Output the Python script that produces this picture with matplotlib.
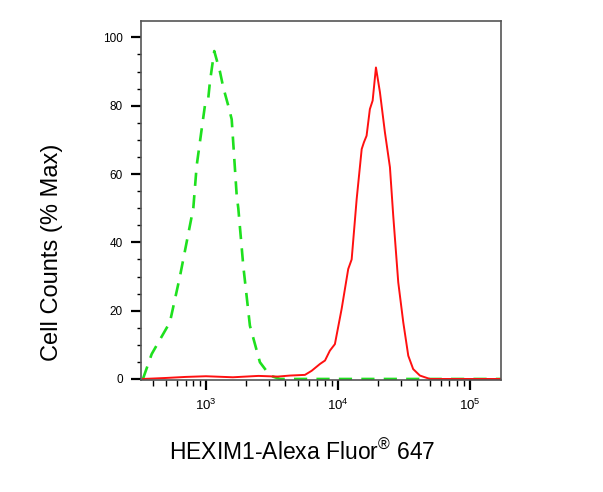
import matplotlib
matplotlib.use("Agg")
import matplotlib.pyplot as plt
from matplotlib.ticker import LogLocator, FixedLocator, NullFormatter

plt.rcParams["font.family"] = ["Liberation Sans", "DejaVu Sans"]
plt.rcParams["mathtext.fontset"] = "custom"
plt.rcParams["mathtext.rm"] = "Liberation Sans"
plt.rcParams["mathtext.it"] = "Liberation Sans"

# isotype control (green, dashed)
ctrl_x = [333, 388, 533, 635, 802, 851, 927, 982, 1040, 1072, 1156, 1276, 1352,
          1476, 1567, 1710, 1758, 1919, 2153, 2564, 3055, 3639, 171000]
ctrl_y = [0, 7.3, 16.6, 30, 50, 62.5, 73, 80, 82, 87, 96, 90, 85.4,
          80, 76, 53.7, 50, 33, 15.6, 4.9, 1, 0, 0]

# HEXIM1 stained (red, solid)
hex_x = [333, 500, 700, 1000, 1600, 2500, 3500, 4325, 5623, 6324, 7311, 7980, 8690,
         9484, 10666, 11967, 12706, 13868, 15136, 15740, 16482, 17458, 18323,
         19409, 20797, 22699, 24774, 26242, 28642, 31261, 34119, 37154, 41783,
         49774, 171000]
hex_y = [0, 0.3, 0.6, 0.8, 0.5, 0.9, 0.7, 1.0, 1.2, 2.4, 4.4, 5.4, 8.3,
         10.2, 20.5, 32.2, 35, 52.7, 67.3, 69.3, 71.2, 79, 81.5,
         91.2, 84, 72.2, 62, 47.8, 28.3, 16.6, 6.8, 2.9, 1,
         0, 0]

y_ticks = [0, 20, 40, 60, 80, 100]
x_ticks = [1e3, 1e4, 1e5]
x_tick_labels = [r"$10^{3}$", r"$10^{4}$", r"$10^{5}$"]

fig = plt.figure(figsize=(6.03, 4.92), dpi=100)
ax = fig.add_axes([141 / 603, 1 - 380 / 492, 360 / 603, 359 / 492])

ax.plot(ctrl_x, ctrl_y, color="#1ee01e", lw=1.9, linestyle=(0, (5, 3.5)))
ax.plot(hex_x, hex_y, color="#ff1010", lw=1.4)

ax.set_xscale("log")
ax.set_xlim(322, 172000)
ax.set_ylim(-0.3, 104.8)

ax.set_yticks(y_ticks)
ax.yaxis.set_minor_locator(FixedLocator(range(5, 105, 5)))
ax.set_xticks(x_ticks)
ax.set_xticklabels(x_tick_labels)
ax.xaxis.set_minor_locator(LogLocator(base=10, subs=range(2, 10)))
ax.xaxis.set_minor_formatter(NullFormatter())

ax.tick_params(axis="y", which="major", length=7, width=1.6, labelsize=8.5, pad=6)
ax.tick_params(axis="y", which="minor", length=3, width=1)
ax.tick_params(axis="x", which="major", length=7, width=1.6, labelsize=9.5, pad=6)
ax.tick_params(axis="x", which="minor", length=4, width=1)

for s in ax.spines.values():
    s.set_color("#555555")
    s.set_linewidth(1.2)

fig.text(52 / 603, 1 - 252 / 492, "Cell Counts (% Max)", rotation=90,
         ha="center", va="center", fontsize=17)
fig.text(302 / 603, 1 - 452 / 492, "HEXIM1-Alexa Fluor$^{\u00ae}$ 647",
         ha="center", va="center", fontsize=16.5)

fig.savefig("out.png", dpi=100)
